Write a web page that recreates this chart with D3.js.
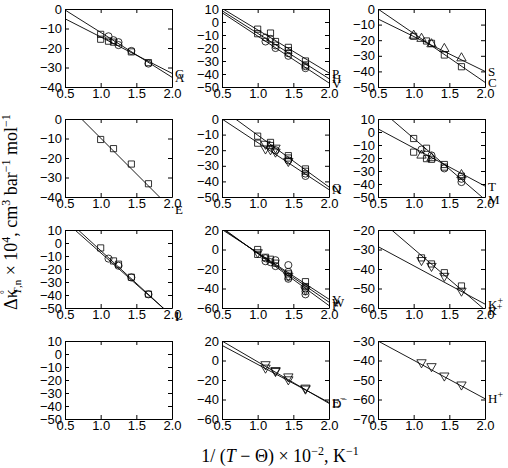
<!DOCTYPE html>
<html>
<head>
<meta charset="utf-8">
<script src="https://cdn.jsdelivr.net/npm/d3@7"></script>
<style>
body { margin: 0; background: #fff; }
svg { font-family: "Liberation Serif", "Times New Roman", serif; }
.axis text { font-size: 13px; fill: #000; }
.axis path, .axis line { stroke: #000; stroke-width: 1; }
</style>
</head>
<body>
<svg id="chart" width="508" height="468"></svg>
<script>
// panels in reading order (row by row, 3 per row)
const xTicks = [0.5, 1.0, 1.5, 2.0];
const yRanges = [[-40, 0], [-50, 10], [-50, 0],
                 [-40, 0], [-50, 0], [-50, 10],
                 [-50, 10], [-60, 20], [-60, -20],
                 [-50, 10], [-60, 20], [-70, -30]];
const yTickSteps = [10, 10, 10, 10, 10, 10, 10, 20, 10, 10, 20, 10];

// fitted lines: label, value at x = 0.5, value at x = 2.0
const fitLabels = [["G", "A"], ["P", "H", "V"], ["S", "C"],
                   ["E"], ["Q", "N"], ["T", "M"],
                   ["L", "I"], ["Y", "W", "F"], ["K+", "R+"],
                   [], ["D-", "E-"], ["H+"]];
const fitStart = [[-5, -0.5], [10.5, 8.7, 7.2], [-6.4, 0],
                  [8.5], [6.3, 0], [2.4, 18.7],
                  [16.8, 19.4], [20.5, 21.5, 22.5], [-28.5, -14],
                  [], [20, 15.5], [-30]];
const fitEnd = [[-33, -35], [-39.2, -43.6, -46.9], [-40, -47],
                [-46.4], [-43.6, -45.3], [-41.6, -52],
                [-56.1, -56.2], [-51, -54, -57.5], [-58, -61],
                [], [-44, -43], [-59.6]];

// experimental points per panel, [x, y]
const squarePts = [
  [[1.0, -13], [1.0, -15.5], [1.11, -16.5], [1.18, -17], [1.43, -22], [1.67, -27.5]],
  [[1.0, -5.5], [1.0, -9], [1.18, -8.5], [1.25, -15], [1.43, -19.5], [1.43, -22], [1.67, -30], [1.67, -33]],
  [[1.0, -17.5], [1.18, -20.5], [1.25, -22], [1.43, -29.5], [1.67, -37]],
  [[1.0, -10.5], [1.18, -15.2], [1.43, -23.1], [1.67, -33.2]],
  [[1.0, -11], [1.0, -15.5], [1.18, -15], [1.18, -17], [1.43, -23.5], [1.43, -25], [1.67, -32], [1.67, -33.5]],
  [[1.0, -5], [1.0, -15.5], [1.18, -12.5], [1.18, -20.5], [1.25, -21], [1.43, -25], [1.43, -27], [1.67, -34]],
  [[1.0, -3.8], [1.18, -13.8], [1.25, -16.3], [1.43, -26.3], [1.67, -39.3]],
  [[1.0, 0], [1.0, -5], [1.11, -8], [1.18, -10], [1.25, -14], [1.43, -25], [1.43, -28], [1.67, -33], [1.67, -38]],
  [[1.11, -34.3], [1.25, -37.4], [1.43, -41.9], [1.67, -48.7]],
  [], [], []
];
const circlePts = [
  [[1.11, -14], [1.18, -16], [1.25, -17], [1.25, -18.5], [1.43, -21.5], [1.67, -28]],
  [[1.11, -12], [1.11, -15], [1.18, -13], [1.25, -18], [1.25, -20], [1.43, -24], [1.43, -26], [1.67, -34], [1.67, -35.5]],
  [], [],
  [[1.25, -20], [1.43, -26.5], [1.67, -35], [1.67, -36.5]],
  [[1.11, -13.5], [1.25, -18], [1.43, -28], [1.67, -36], [1.67, -38.5]],
  [[1.11, -12], [1.25, -17.5], [1.43, -26.5], [1.67, -39.5]],
  [[1.11, -9], [1.11, -12], [1.18, -13], [1.25, -11], [1.25, -17], [1.43, -16], [1.43, -23], [1.43, -30], [1.67, -40], [1.67, -43], [1.67, -46]],
  [], [], [], []
];
const triUpPts = [
  [], [],
  [[1.0, -17], [1.11, -19], [1.25, -22.5], [1.43, -25.5], [1.67, -31.5]],
  [], [],
  [[1.11, -18], [1.25, -20], [1.67, -33]],
  [], [], [], [], [], []
];
const triDownPts = [
  [], [], [], [],
  [[1.11, -16], [1.11, -19], [1.18, -19.5], [1.25, -18.5], [1.25, -21], [1.43, -27]],
  [], [],
  [[1.0, -3], [1.43, -27], [1.67, -41]],
  [[1.11, -35.5], [1.25, -38.5], [1.43, -43.6], [1.67, -51.2]],
  [],
  [[1.11, -4], [1.11, -7.5], [1.25, -10], [1.25, -11], [1.43, -16.5], [1.43, -19.5], [1.67, -28], [1.67, -29]],
  [[1.11, -41], [1.25, -43], [1.43, -47.8], [1.67, -52.4]]
];

var svg = d3.select("#chart");
var colLeft = [65, 222, 378];
var rowTop = [9, 119, 230, 341];
var pw = 107, ph = 78, tick = 4;

var x = d3.scaleLinear().domain([0.5, 2.0]).range([0, pw]);

function addLabel(sel, txt) {
    // trailing + or - is drawn as a superscript charge
    var last = txt.slice(-1);
    if (last === "+" || last === "-") {
        sel.text(txt.slice(0, -1));
        sel.append("tspan").attr("dy", -5).attr("font-size", 10)
           .text(last === "+" ? "+" : "\u2212");
    } else {
        sel.text(txt);
    }
}

yRanges.forEach(function (range, i) {
    var col = i % 3, row = Math.floor(i / 3);
    var g = svg.append("g")
               .attr("transform", "translate(" + colLeft[col] + "," + rowTop[row] + ")");
    var y = d3.scaleLinear().domain(range).range([ph, 0]);
    var yt = d3.range(range[0], range[1] + 0.001, yTickSteps[i]);

    g.append("defs").append("clipPath").attr("id", "clip" + i)
     .append("rect").attr("width", pw).attr("height", ph);

    g.append("g").attr("class", "axis")
     .call(d3.axisLeft(y).tickValues(yt).tickSizeInner(-tick).tickSizeOuter(0).tickPadding(3));
    g.append("g").attr("class", "axis").attr("transform", "translate(" + pw + ",0)")
     .call(d3.axisRight(y).tickValues(yt).tickSizeInner(-tick).tickSizeOuter(0).tickFormat(""));
    g.append("g").attr("class", "axis").attr("transform", "translate(0," + ph + ")")
     .call(d3.axisBottom(x).tickValues(xTicks).tickSizeInner(-tick).tickSizeOuter(0)
            .tickPadding(2).tickFormat(d3.format(".1f")));
    g.append("g").attr("class", "axis")
     .call(d3.axisTop(x).tickValues(xTicks).tickSizeInner(-tick).tickSizeOuter(0).tickFormat(""));

    var plot = g.append("g").attr("clip-path", "url(#clip" + i + ")");

    fitLabels[i].forEach(function (lab, j) {
        plot.append("line")
            .attr("x1", x(0.5)).attr("y1", y(fitStart[i][j]))
            .attr("x2", x(2.0)).attr("y2", y(fitEnd[i][j]))
            .attr("stroke", "#000").attr("stroke-width", 0.9);
        var t = g.append("text")
                 .attr("x", pw + 3).attr("y", y(fitEnd[i][j]))
                 .attr("dy", "0.35em").attr("font-size", 13);
        addLabel(t, lab);
    });

    function drawPts(pts, type, rot) {
        g.selectAll(null).data(pts).enter().append("path")
         .attr("d", d3.symbol().type(type).size(type === d3.symbolCircle ? 40 : 38))
         .attr("transform", function (d) {
             return "translate(" + x(d[0]) + "," + y(d[1]) + ")" + (rot ? " rotate(180)" : "");
         })
         .attr("fill", "none").attr("stroke", "#000").attr("stroke-width", 0.8);
    }
    drawPts(squarePts[i], d3.symbolSquare, false);
    drawPts(circlePts[i], d3.symbolCircle, false);
    drawPts(triUpPts[i], d3.symbolTriangle, false);
    drawPts(triDownPts[i], d3.symbolTriangle, true);
});

// axis titles
var xt = svg.append("text").attr("x", 280).attr("y", 462)
            .attr("text-anchor", "middle").attr("font-size", 18);
xt.append("tspan").text("1/ (");
xt.append("tspan").attr("font-style", "italic").text("T");
xt.append("tspan").text(" \u2212 \u0398) \u00d7 10");
xt.append("tspan").attr("dy", -7).attr("font-size", 12).text("\u22122");
xt.append("tspan").attr("dy", 7).text(", K");
xt.append("tspan").attr("dy", -7).attr("font-size", 12).text("\u22121");

var yTitle = svg.append("text")
                .attr("transform", "translate(17,212) rotate(-90)")
                .attr("text-anchor", "middle").attr("font-size", 18);
yTitle.append("tspan").text("\u0394\u03ba");
yTitle.append("tspan").attr("dy", -9).attr("dx", -5).attr("font-size", 10).text("\u00b0");
yTitle.append("tspan").attr("dy", 13).attr("dx", -4).attr("font-size", 11).attr("font-style", "italic").text("T");
yTitle.append("tspan").attr("font-size", 11).text(",n");
yTitle.append("tspan").attr("dy", -4).text(" \u00d7 10");
yTitle.append("tspan").attr("dy", -7).attr("font-size", 12).text("4");
yTitle.append("tspan").attr("dy", 7).text(", cm");
yTitle.append("tspan").attr("dy", -7).attr("font-size", 12).text("3");
yTitle.append("tspan").attr("dy", 7).text(" bar");
yTitle.append("tspan").attr("dy", -7).attr("font-size", 12).text("\u22121");
yTitle.append("tspan").attr("dy", 7).text(" mol");
yTitle.append("tspan").attr("dy", -7).attr("font-size", 12).text("\u22121");
</script>
</body>
</html>
